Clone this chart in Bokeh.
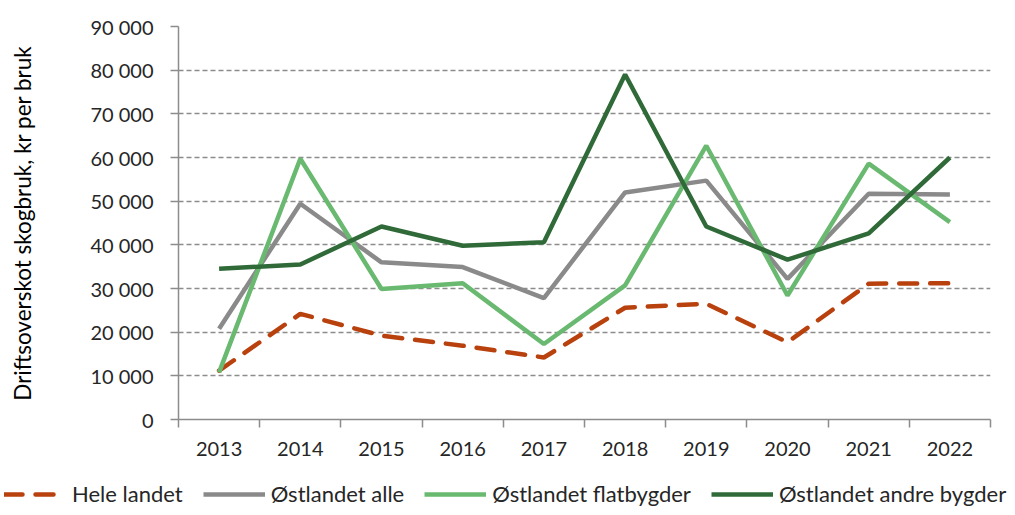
from bokeh.plotting import figure
from bokeh.layouts import column, row
from bokeh.models import FixedTicker, Legend, LegendItem, Range1d
from bokeh.embed import file_html
from bokeh.resources import INLINE

years = ["2013", "2014", "2015", "2016", "2017", "2018", "2019", "2020", "2021", "2022"]
hele_landet = [11200, 24200, 19200, 16900, 14200, 25600, 26500, 17700, 31100, 31200]
ostlandet_alle = [20800, 49400, 36000, 34900, 27800, 52000, 54700, 32200, 51700, 51500]
ostlandet_flat = [10800, 59700, 29900, 31200, 17300, 30700, 62700, 28400, 58600, 45200]
ostlandet_andre = [34500, 35500, 44200, 39800, 40600, 79000, 44200, 36600, 42600, 60000]
y_ticks = [0, 10000, 20000, 30000, 40000, 50000, 60000, 70000, 80000, 90000]
series_names = ["Hele landet", "Østlandet alle", "Østlandet flatbygder", "Østlandet andre bygder"]

FONT = "Lato"
TXT = "#262626"
AX = "#8c8c8c"
series = [hele_landet, ostlandet_alle, ostlandet_flat, ostlandet_andre]
styles = [
    dict(line_color="#b8410e", line_width=4.5, line_dash="18 13", line_cap="round"),
    dict(line_color="#8a8a8a", line_width=4.5),
    dict(line_color="#69b970", line_width=4.5),
    dict(line_color="#2f6a38", line_width=4.5),
]

xs = [i + 0.5 for i in range(len(years))]

p = figure(width=1007, height=464, output_backend="svg", toolbar_location=None,
           x_range=Range1d(0, len(years)), y_range=Range1d(0, 90000),
           min_border_left=178, min_border_right=17, min_border_top=26, min_border_bottom=45)
p.outline_line_color = None

p.xaxis.ticker = FixedTicker(ticks=xs, minor_ticks=list(range(len(years) + 1)))
p.xaxis.major_label_overrides = {x: y for x, y in zip(xs, years)}
p.xaxis.major_tick_line_color = None
p.xaxis.minor_tick_line_color = AX
p.xaxis.minor_tick_line_width = 1.5
p.xaxis.minor_tick_out = 8
p.xaxis.minor_tick_in = 0
p.xaxis.axis_line_color = AX
p.xaxis.axis_line_width = 1.5
p.xaxis.major_label_standoff = 14
p.xaxis.major_label_text_font = FONT
p.xaxis.major_label_text_font_size = "20px"
p.xaxis.major_label_text_color = TXT

p.yaxis.ticker = FixedTicker(ticks=y_ticks, minor_ticks=[])
p.yaxis.major_label_overrides = {v: f"{v:,}".replace(",", " ") for v in y_ticks}
p.yaxis.major_tick_line_color = AX
p.yaxis.major_tick_line_width = 1.5
p.yaxis.major_tick_out = 8
p.yaxis.major_tick_in = 0
p.yaxis.axis_line_color = AX
p.yaxis.axis_line_width = 1.5
p.yaxis.major_label_standoff = 17
p.yaxis.major_label_text_font = FONT
p.yaxis.major_label_text_font_size = "20px"
p.yaxis.major_label_text_color = TXT
p.yaxis.axis_label = "Driftsoverskot skogbruk, kr per bruk"
p.yaxis.axis_label_text_font = FONT
p.yaxis.axis_label_text_font_size = "22.5px"
p.yaxis.axis_label_text_font_style = "normal"
p.yaxis.axis_label_text_color = "#000000"
p.yaxis.axis_label_standoff = 51

p.xgrid.grid_line_color = None
p.ygrid.ticker = FixedTicker(ticks=y_ticks[1:])
p.ygrid.grid_line_color = AX
p.ygrid.grid_line_width = 1.5
p.ygrid.grid_line_dash = "5 3"

for vals, st in zip(series, styles):
    p.line(xs, vals, **st)

# legend strip: same series, plotted out of view so only the legend shows
q = figure(width=1007, height=43, output_backend="svg", toolbar_location=None,
           x_range=Range1d(0, len(years)), y_range=Range1d(-300000, -200000),
           min_border=0, x_axis_type=None, y_axis_type=None)
q.outline_line_color = None
q.grid.visible = False
rs = [q.line(xs, vals, **st) for vals, st in zip(series, styles)]
legend = Legend(items=[LegendItem(label=n, renderers=[r]) for n, r in zip(series_names, rs)],
                orientation="horizontal", location=(4, 0),
                label_text_font=FONT, label_text_font_size="22px", label_text_color=TXT,
                glyph_width=62, glyph_height=20, label_standoff=6, spacing=20,
                padding=0, margin=0, border_line_color=None, background_fill_alpha=0)
q.add_layout(legend, "center")

open("out.html", "w").write(file_html(column(row(p), row(q), spacing=0), INLINE))
